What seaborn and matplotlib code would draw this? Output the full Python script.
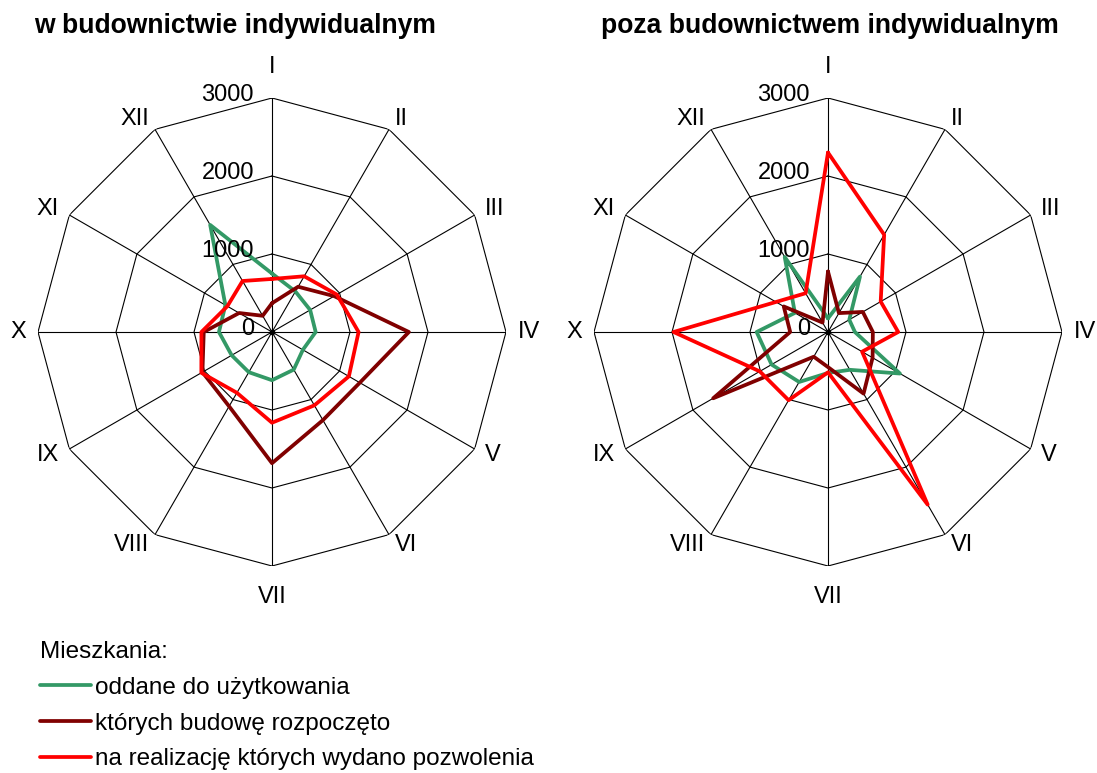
import numpy as np
import pandas as pd
import matplotlib.pyplot as plt
import seaborn as sns

months = ["I", "II", "III", "IV", "V", "VI", "VII", "VIII", "IX", "X", "XI", "XII"]
series_names = ["oddane do użytkowania",
                "których budowę rozpoczęto",
                "na realizację których wydano pozwolenia"]
colors = ["#339966", "#800000", "#FF0000"]

# w budownictwie indywidualnym
ind_oddane = [750, 600, 565, 560, 457, 557, 618, 595, 597, 680, 690, 1585]
ind_rozpoczete = [369, 670, 920, 1755, 1300, 1305, 1682, 1100, 1030, 875, 487, 240]
ind_pozwolenia = [680, 825, 960, 1110, 1138, 1086, 1163, 900, 1046, 905, 661, 755]

# poza budownictwem indywidualnym
poza_oddane = [175, 820, 315, 345, 1065, 560, 525, 740, 835, 915, 490, 1110]
poza_rozpoczete = [775, 280, 515, 575, 660, 912, 450, 366, 1700, 485, 655, 140]
poza_pozwolenia = [2300, 1440, 780, 900, 505, 2555, 517, 1010, 1010, 1980, 770, 574]

r_ticks = [0, 1000, 2000, 3000]

sns.set_style("white")
plt.rcParams["font.family"] = ["Liberation Sans", "DejaVu Sans"]
plt.rcParams["text.color"] = "black"

fig = plt.figure(figsize=(10.97, 7.73), dpi=100)
W, H = 1097, 773
R = 234


def radar(cx, cy, values, title, tx):
    ax = fig.add_axes([(cx - R) / W, (H - cy - R) / H, 2 * R / W, 2 * R / H],
                      projection="polar")
    ax.set_theta_zero_location("N")
    ax.set_theta_direction(-1)
    theta = np.linspace(0, 2 * np.pi, len(months) + 1)

    # 12-gon grid and spokes
    for r in r_ticks[1:]:
        ax.plot(theta, [r] * len(theta), color="black", lw=0.8, zorder=1)
    for t in theta[:-1]:
        ax.plot([t, t], [0, r_ticks[-1]], color="black", lw=0.8, zorder=1)

    rows = []
    for name, vals in zip(series_names, values):
        closed = vals + vals[:1]
        for t, v in zip(theta, closed):
            rows.append({"theta": t, "value": v, "series": name})
    df = pd.DataFrame(rows)
    sns.lineplot(data=df, x="theta", y="value", hue="series",
                 hue_order=series_names, palette=colors, sort=False,
                 estimator=None, lw=2.7, ax=ax, legend=False, zorder=3)

    ax.set_ylim(0, r_ticks[-1])
    ax.set_xticks([])
    ax.set_yticks([])
    ax.set_xlabel("")
    ax.set_ylabel("")
    ax.grid(False)
    ax.spines["polar"].set_visible(False)
    ax.plot([0], [0], "o", color="black", ms=3, zorder=2)

    # category labels outside the outer ring
    for t, m in zip(theta[:-1], months):
        s, c = np.sin(t), np.cos(t)
        if abs(s) < 0.01:
            ha, off = "center", (0, 22 * np.sign(c))
        else:
            ha, off = ("left" if s > 0 else "right"), (8.5 * s, 8.5 * c)
        ax.annotate(m, xy=(t, r_ticks[-1]), xytext=off, textcoords="offset points",
                    ha=ha, va="center", fontsize=17, annotation_clip=False)
    for v in r_ticks:
        ax.annotate(str(v), xy=(0, v), xytext=(-13, 2), textcoords="offset points",
                    ha="right", va="center", fontsize=17)

    fig.text(tx / W, 1 - 26 / H, title, ha="center", va="center",
             fontsize=19.1, fontweight="bold")
    return ax


ax1 = radar(272, 332, [ind_oddane, ind_rozpoczete, ind_pozwolenia],
            "w budownictwie indywidualnym", 235)
ax2 = radar(828, 332, [poza_oddane, poza_rozpoczete, poza_pozwolenia],
            "poza budownictwem indywidualnym", 830)

handles = ax1.get_lines()[-4:-1]
fig.legend(handles, series_names, loc="upper left",
           bbox_to_anchor=(18 / W, 1 - 619 / H), frameon=False,
           title="Mieszkania:", title_fontsize=17.5, fontsize=17.5,
           alignment="left", handlelength=2.1, handletextpad=0.17,
           labelspacing=0.57)

fig.savefig("out.png", dpi=100)
